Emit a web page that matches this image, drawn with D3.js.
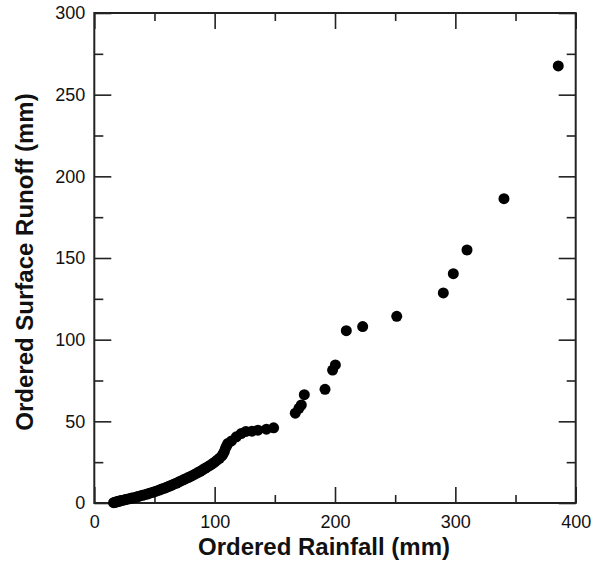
<!DOCTYPE html>
<html>
<head>
<meta charset="utf-8">
<script src="https://cdn.jsdelivr.net/npm/d3@7"></script>
<style>
  body { margin: 0; background: #fff; }
  svg { font-family: "Liberation Sans", Arial, sans-serif; }
</style>
</head>
<body>
<svg id="chart" width="603" height="564"></svg>
<script>
// ordered rainfall (mm) and ordered surface runoff (mm)
const rainfall = [16, 17, 18, 19, 20, 21, 22, 23, 25, 26, 28, 30, 31, 33, 35, 36, 38, 40, 42, 44,
  46, 48, 50, 52, 54, 56, 58, 60, 62, 64, 66, 68, 70, 72, 74, 76, 78, 80, 82, 84,
  86, 88, 90, 92, 94, 96, 98, 100, 102, 104, 106, 107, 108, 109, 110, 111, 114, 118, 122, 126,
  131, 136, 143, 149,
  167, 170, 172, 174.5, 191.7, 198, 200.3, 209.4, 223, 251.3, 290, 298.3, 309.7, 340.4, 385.5];
const runoff = [0.2, 0.4, 0.6, 0.8, 1.0, 1.2, 1.4, 1.6, 1.9, 2.1, 2.4, 2.7, 3.0, 3.2, 3.6, 3.9, 4.3, 4.7, 5.1, 5.5,
  6.0, 6.4, 6.9, 7.4, 7.9, 8.5, 9.0, 9.6, 10.2, 10.8, 11.5, 12.1, 12.8, 13.5, 14.2, 14.9, 15.6, 16.3, 17.0, 17.8,
  18.6, 19.4, 20.3, 21.2, 22.1, 23.0, 24.0, 25.0, 26.2, 27.4, 28.8, 30.0, 31.5, 33.5, 35.0, 36.5, 38.0, 40.5, 42.5, 43.8,
  44.0, 44.6, 45.2, 46.0,
  55, 58, 60, 66.3, 69.6, 81.4, 84.5, 105.5, 108, 114.3, 128.6, 140.4, 154.9, 186.3, 267.6];

const xMajor = [0, 100, 200, 300, 400];
const xMinor = [50, 150, 250, 350];
const yMajor = [0, 50, 100, 150, 200, 250, 300];
const yMinor = [25, 75, 125, 175, 225, 275];

const svg = d3.select("#chart");
const mLeft = 94.3, mRight = 575.7, mTop = 13, mBottom = 503;

const x = d3.scaleLinear().domain([0, 400]).range([mLeft, mRight]);
const y = d3.scaleLinear().domain([0, 300]).range([mBottom, mTop]);

const ink = "#222";

// ticks on all four sides, pointing inward
function ticks(axis, vals, len, tf, labels) {
  const g = svg.append("g").attr("transform", tf)
    .call(axis.tickValues(vals).tickSize(len).tickFormat(labels ? d3.format("d") : ""));
  g.select(".domain").remove();
  g.selectAll(".tick line").attr("stroke", ink).attr("stroke-width", 1.6);
  g.selectAll(".tick text").attr("fill", "#111").style("font-size", "18px");
  return g;
}

const bx = ticks(d3.axisBottom(x), xMajor, -16, `translate(0,${mBottom})`, true);
bx.selectAll(".tick text").attr("y", 12).attr("dy", "0.71em");
ticks(d3.axisBottom(x), xMinor, -8, `translate(0,${mBottom})`, false);
ticks(d3.axisTop(x), xMajor, -16, `translate(0,${mTop})`, false);
ticks(d3.axisTop(x), xMinor, -8, `translate(0,${mTop})`, false);

const ly = ticks(d3.axisLeft(y), yMajor, -17, `translate(${mLeft},0)`, true);
ly.selectAll(".tick text").attr("x", -9);
ticks(d3.axisLeft(y), yMinor, -9, `translate(${mLeft},0)`, false);
ticks(d3.axisRight(y), yMajor, -17, `translate(${mRight},0)`, false);
ticks(d3.axisRight(y), yMinor, -9, `translate(${mRight},0)`, false);

// frame
svg.append("rect")
  .attr("x", mLeft).attr("y", mTop)
  .attr("width", mRight - mLeft).attr("height", mBottom - mTop)
  .attr("fill", "none").attr("stroke", ink).attr("stroke-width", 2);

// points
const pts = rainfall.map((r, i) => ({ r: r, q: runoff[i] }));
svg.append("g").selectAll("circle")
  .data(pts)
  .join("circle")
  .attr("cx", d => x(d.r))
  .attr("cy", d => y(d.q))
  .attr("r", 5.5)
  .attr("fill", "#000");

// axis titles
svg.append("text")
  .attr("x", 324).attr("y", 555)
  .attr("text-anchor", "middle")
  .style("font-size", "24px").style("font-weight", "bold")
  .attr("fill", "#111")
  .text("Ordered Rainfall (mm)");

svg.append("text")
  .attr("transform", "translate(33,262) rotate(-90)")
  .attr("text-anchor", "middle")
  .style("font-size", "24px").style("font-weight", "bold")
  .attr("fill", "#111")
  .text("Ordered Surface Runoff (mm)");
</script>
</body>
</html>
